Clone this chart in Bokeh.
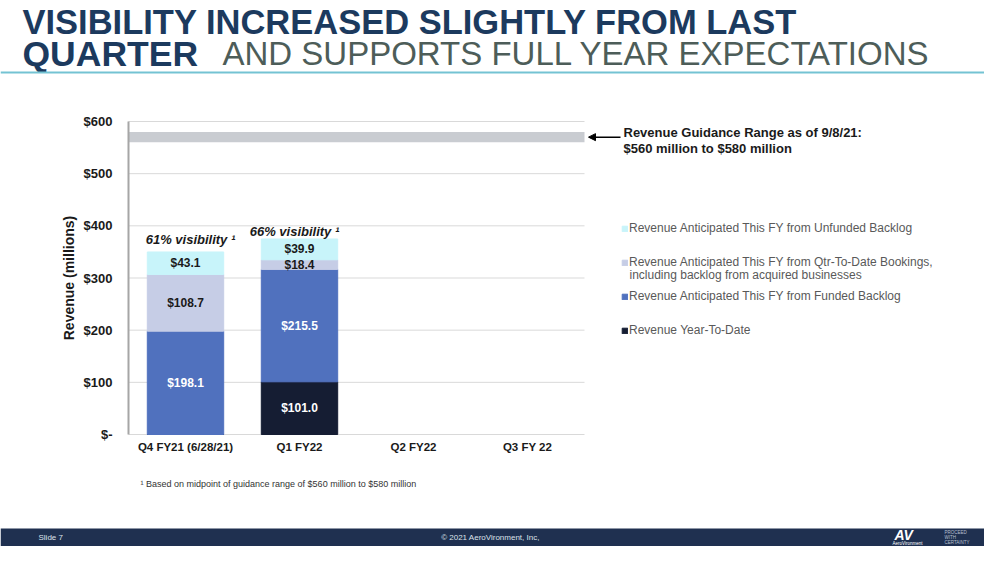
from bokeh.plotting import figure
from bokeh.models import (Range1d, ColumnDataSource, Label, Arrow, NormalHead,
                          BoxAnnotation, Span, Legend, LegendItem, FixedTicker)
from bokeh.core.properties import value
from bokeh.embed import file_html
from bokeh.resources import INLINE

# ---------------- data ----------------
quarters = ["Q4 FY21 (6/28/21)", "Q1 FY22", "Q2 FY22", "Q3 FY 22"]
bar_quarters = ["Q4 FY21 (6/28/21)", "Q1 FY22"]
revenue_ytd = [0.0, 101.0]
funded_backlog = [198.1, 215.5]
qtd_bookings = [108.7, 18.4]
unfunded_backlog = [43.1, 39.9]
visibility_labels = ["61% visibility \u00b9", "66% visibility \u00b9"]
guidance_low = 560
guidance_high = 580
y_ticks = [0, 100, 200, 300, 400, 500, 600]
y_tick_labels = ["$-", "$100", "$200", "$300", "$400", "$500", "$600"]

series_keys = ["ytd", "funded", "bookings", "unfunded"]
series_values = [revenue_ytd, funded_backlog, qtd_bookings, unfunded_backlog]
series_names = ["Revenue Year-To-Date",
                "Revenue Anticipated This FY from Funded Backlog",
                "Revenue Anticipated This FY from Qtr-To-Date Bookings,",
                "Revenue Anticipated This FY from Unfunded Backlog"]
series_colors = ["#151d33", "#5071be", "#c6cde6", "#c8f4fa"]
label_colors = ["#ffffff", "#ffffff", "#1a1a1a", "#1a1a1a"]

FONT = "Liberation Sans"
NAVY = "#1c3a5e"
FOOT = "#1f3050"

# page-pixel <-> data helpers (layout only)
X0, XW = 128.0, 114.0          # left edge of the category band, px per category
Y0, YPX = 434.0, 313.0 / 600   # pixel row of y=0, px per unit
W, H = 984, 546
def dx(X):
    return (X - X0) / XW
def dy(Y):
    return (Y0 - Y) / YPX

p = figure(width=W, height=H, x_range=Range1d(dx(0), dx(W)), y_range=Range1d(dy(H), dy(0)),
           toolbar_location=None, output_backend="svg", min_border=0)
p.outline_line_color = None
p.xgrid.visible = False
p.ygrid.visible = False

# gridlines over the category band only
p.segment(x0=[0] * len(y_ticks), x1=[len(quarters)] * len(y_ticks), y0=y_ticks, y1=y_ticks,
          line_color="#d9d9d9", line_width=1)

# guidance band
p.quad(left=[0], right=[len(quarters)], bottom=[guidance_low], top=[guidance_high],
       fill_color="#c9ccd1", line_color=None)

xpos = [quarters.index(q) + 0.5 for q in bar_quarters]
src = ColumnDataSource(dict(x=xpos, ytd=revenue_ytd, funded=funded_backlog,
                            bookings=qtd_bookings, unfunded=unfunded_backlog))
rs = p.vbar_stack(series_keys, x="x", width=0.67, color=series_colors, source=src)

# segment value labels
lx, ly, lt, lc = [], [], [], []
for i, xv in enumerate(xpos):
    base = 0.0
    for k, vals in enumerate(series_values):
        v = vals[i]
        if v > 0:
            lx.append(xv); ly.append(base + v / 2); lt.append("$%.1f" % v); lc.append(label_colors[k])
        base += v
p.text(x=lx, y=ly, text=lt, text_color=lc, text_font=value(FONT), text_font_style="bold",
       text_font_size="12px", text_align="center", text_baseline="middle")

totals = [sum(vals[i] for vals in series_values) for i in range(len(bar_quarters))]
p.text(x=xpos, y=totals, text=visibility_labels, x_offset=[5, -5], y_offset=[-12, -7],
       text_font=value(FONT), text_font_style="bold italic", text_font_size="13px",
       text_color="#1a1a1a", text_align="center", text_baseline="alphabetic")

# axes (drawn inside the full-page frame)
p.yaxis.fixed_location = 0
p.yaxis.bounds = (0, 600)
p.yaxis.ticker = FixedTicker(ticks=y_ticks)
p.yaxis.major_label_overrides = dict(zip(y_ticks, y_tick_labels))
p.yaxis.axis_line_color = "#a6a6a6"
p.yaxis.axis_line_width = 2
p.yaxis.major_tick_line_color = None
p.yaxis.minor_tick_line_color = None
p.yaxis.major_label_text_font = FONT
p.yaxis.major_label_text_font_style = "bold"
p.yaxis.major_label_text_font_size = "13px"
p.yaxis.major_label_text_color = "#1a1a1a"
p.yaxis.major_label_standoff = 10
p.yaxis.axis_label = "Revenue (millions)"
p.yaxis.axis_label_text_font = FONT
p.yaxis.axis_label_text_font_style = "bold"
p.yaxis.axis_label_text_font_size = "14px"
p.yaxis.axis_label_text_color = "#1a1a1a"
p.yaxis.axis_label_standoff = 4

xt = [i + 0.5 for i in range(len(quarters))]
p.xaxis.fixed_location = 0
p.xaxis.bounds = (0, len(quarters))
p.xaxis.ticker = FixedTicker(ticks=xt)
p.xaxis.major_label_overrides = dict(zip(xt, quarters))
p.xaxis.axis_line_color = None
p.xaxis.major_tick_line_color = None
p.xaxis.minor_tick_line_color = None
p.xaxis.major_label_text_font = FONT
p.xaxis.major_label_text_font_style = "bold"
p.xaxis.major_label_text_font_size = "11.5px"
p.xaxis.major_label_text_color = "#1a1a1a"
p.xaxis.major_label_standoff = 0

def label(X, Y, text, size, color="#1a1a1a", style="normal", align="left"):
    p.add_layout(Label(x=dx(X), y=dy(Y), text=text, text_font=FONT, text_font_style=style,
                       text_font_size=size, text_color=color, text_baseline="middle",
                       text_align=align))

# title
label(22, 21, "VISIBILITY INCREASED SLIGHTLY FROM LAST", "34.5px", NAVY, "bold")
label(22, 53, "QUARTER", "35.5px", NAVY, "bold")
label(222, 53, "AND SUPPORTS FULL YEAR EXPECTATIONS", "33px", "#4d5d59")
p.add_layout(Span(location=dy(72), dimension="width", line_color="#74c3d3", line_width=2))

# guidance annotation
mid = (guidance_low + guidance_high) / 2
p.add_layout(Arrow(end=NormalHead(size=7, fill_color="black", line_color="black"),
                   x_start=dx(620), x_end=dx(588), y_start=mid, y_end=mid,
                   line_color="black", line_width=1.5))
label(623, 132, "Revenue Guidance Range as of 9/8/21:", "13px", style="bold")
label(623, 148, "$560 million to $580 million", "13px", style="bold")

# legend
legend = Legend(items=[LegendItem(label=series_names[k], renderers=[rs[k]]) for k in [3, 2, 1, 0]],
                location=(621, 208), orientation="vertical", padding=0, margin=0,
                spacing=18, glyph_width=7, glyph_height=7, label_height=16, label_standoff=1,
                border_line_color=None, background_fill_alpha=0,
                label_text_font=FONT, label_text_font_size="12px", label_text_color="#595959")
p.add_layout(legend)
label(629, 274, "including backlog from acquired businesses", "12px", "#595959")

# footnote
label(140, 483, "\u00b9 Based on midpoint of guidance range of $560 million to $580 million",
      "9px", "#333333")

# footer band
p.add_layout(BoxAnnotation(top=dy(528), fill_color=FOOT, fill_alpha=1, line_color=None))
label(38, 537, "Slide 7", "8px", "#dde2ea")
label(490, 537, "\u00a9 2021 AeroVironment, Inc,", "8px", "#dde2ea", align="center")
label(894, 534, "AV", "14px", "#ffffff", "bold italic")
label(892, 542.5, "AeroVironment", "4.5px", "#ffffff")
p.segment(x0=[dx(935)], x1=[dx(935)], y0=[dy(531)], y1=[dy(543)], line_color="#7080a0", line_width=0.7)
label(944, 532, "PROCEED", "4.5px", "#b8c0d0")
label(944, 537, "WITH", "4.5px", "#b8c0d0")
label(944, 542, "CERTAINTY", "4.5px", "#b8c0d0")

open("out.html", "w").write(file_html(p, INLINE))
